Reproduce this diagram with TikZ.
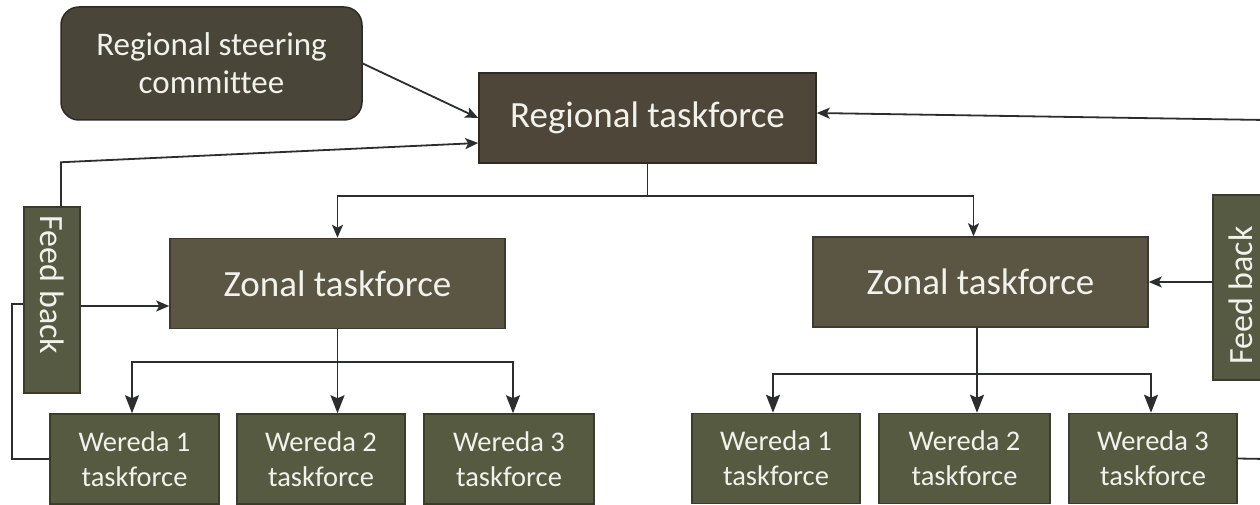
\documentclass[tikz,border=0pt]{standalone}
\usepackage{fontspec}
\setmainfont{Carlito}[Ligatures=NoCommon]
\usetikzlibrary{arrows.meta}
\definecolor{steerfill}{HTML}{4A4539}
\definecolor{steerdraw}{HTML}{2E2B25}
\definecolor{regfill}{HTML}{4E4638}
\definecolor{regdraw}{HTML}{2F2A22}
\definecolor{zonfill}{HTML}{5A5643}
\definecolor{zondraw}{HTML}{3C3A2C}
\definecolor{fbfill}{HTML}{575A43}
\definecolor{werfill}{HTML}{555A40}
\definecolor{werdraw}{HTML}{3A3D2C}
\definecolor{txt}{HTML}{F2F2EC}
\definecolor{ln}{HTML}{2B2E2D}
\tikzset{
  basebox/.style={line width=1.5pt, text=txt, align=center, inner sep=0pt},
  steerbox/.style={basebox, draw=steerdraw, fill=steerfill, rounded corners=18pt,
    minimum width=301pt, minimum height=113pt, font=\fontsize{33}{38}\selectfont},
  regbox/.style={basebox, draw=regdraw, fill=regfill,
    minimum width=337pt, minimum height=90pt, font=\fontsize{37}{44}\selectfont},
  zonbox/.style={basebox, draw=zondraw, fill=zonfill,
    minimum width=335pt, minimum height=90pt, font=\fontsize{37}{44}\selectfont},
  fbbox/.style={basebox, draw=zondraw, fill=fbfill,
    minimum height=56pt, font=\fontsize{34}{41}\selectfont},
  werbox/.style={basebox, draw=werdraw, fill=werfill,
    minimum height=90pt, font=\fontsize{28.5}{35}\selectfont},
  conn/.style={draw=ln, line width=1.8pt},
  arr/.style={conn, -{Stealth[length=13pt,width=11pt,inset=3pt]}},
  warr/.style={conn, -{Stealth[length=18pt,width=14pt,inset=3pt]}}
}
\begin{document}
\begin{tikzpicture}[x=1pt,y=-1pt]
\useasboundingbox[fill=white] (0,0) rectangle (1260,505);

% boxes
\node[steerbox] (steer) at (211.5,63.5) {Regional steering\\committee};
\node[regbox] (reg) at (647.5,118) {Regional taskforce};
\node[zonbox] (zonL) at (337.5,283.5) {Zonal taskforce};
\node[zonbox] (zonR) at (980.5,282) {Zonal taskforce};
\node[fbbox, minimum width=186pt, rotate=-90] (fbL) at (52,300) {Feed back\hspace*{30pt}};
\node[fbbox, minimum width=185pt, rotate=90] (fbR) at (1241,287.5) {Feed back\hspace*{16pt}};

\node[werbox, minimum width=169pt] (w1L) at (134.5,459) {Wereda 1\\taskforce};
\node[werbox, minimum width=168pt] (w2L) at (321,459) {Wereda 2\\taskforce};
\node[werbox, minimum width=170pt] (w3L) at (509,459) {Wereda 3\\taskforce};
\node[werbox, minimum width=168pt] (w1R) at (776,458.5) {Wereda 1\\taskforce};
\node[werbox, minimum width=171pt] (w2R) at (964.5,458.5) {Wereda 2\\taskforce};
\node[werbox, minimum width=168pt] (w3R) at (1153,458.5) {Wereda 3\\taskforce};

\coordinate (rOut) at (1266,120);
\coordinate (rOut2) at (1266,459);

% top connectors
\draw[arr] (steer.east) -- (reg.west);
\draw[arr] ([xshift=9pt]fbL.west) -- ++(0,-44) -- ([yshift=-25pt]reg.west);
\draw[arr] (rOut) -- ([yshift=5pt]reg.east);

% regional to zonal
\draw[arr] (reg.south) -- ++(0,32) -| (zonL.north);
\draw[arr] (reg.south) -- ++(0,32) -| ([xshift=-7pt]zonR.north);

% feedback connectors
\draw[arr] ([yshift=-6pt]fbL.north) -- ([yshift=-6pt]fbL.north -| zonL.west);
\draw[conn] (w1L.west) -- ++(-37,0) |- ([yshift=-4pt]fbL.south);
\draw[arr] (fbR.north |- zonR.east) -- (zonR.east);
\draw[conn] (w3R.east) -- (rOut2);

% zonal left to weredas
\draw[warr] (zonL.south) -- (zonL.south |- w2L.north);
\draw[warr] ([yshift=-33pt]zonL.south) -| ([xshift=-2.5pt]w1L.north);
\draw[warr] ([yshift=-33pt]zonL.south) -| ([xshift=4pt]w3L.north);

% zonal right to weredas
\draw[warr] ([xshift=-3.5pt]zonR.south) -- ([xshift=-3.5pt]zonR.south |- w2R.north);
\draw[warr] ([xshift=-3.5pt,yshift=-46pt]zonR.south) -| ([xshift=-3pt]w1R.north);
\draw[warr] ([xshift=-3.5pt,yshift=-46pt]zonR.south) -| ([xshift=-2pt]w3R.north);
\end{tikzpicture}
\end{document}
